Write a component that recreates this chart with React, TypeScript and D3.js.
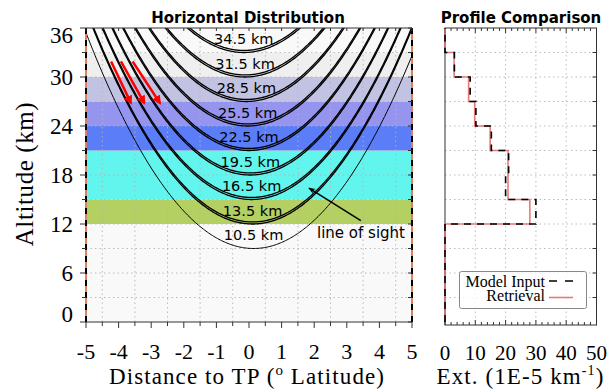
import React from "react";
import * as d3 from "d3";

// tangent heights of the lines of sight (km) and where each curve is centred (deg)
const tangentHeights = [10.5, 13.5, 16.5, 19.5, 22.5, 25.5, 28.5, 31.5, 34.5];
const tangentCentres = [0.14, 0.11, 0.08, 0.04, 0.0, -0.04, -0.08, -0.12, -0.16];

// layer edges (km) and the extinction per layer (1E-5 km^-1)
const layerEdges = [0, 12, 15, 18, 21, 24, 27, 30, 33, 36];
const modelInput = [0, 30, 20, 21, 15.3, 10.2, 8.3, 3.1, 0];
const retrieval = [0, 28, 20.8, 20.8, 14.9, 9.8, 7.8, 3, 0];
const layerColors = ["#f9f9f9", "#b4cf62", "#62f5ee", "#62f5ee", "#5b7df8", "#9595ef", "#c2c2e3", "#efefef", "#f9f9f9"];

const distTicks = [-5, -4, -3, -2, -1, 0, 1, 2, 3, 4, 5];
const altTicks = [0, 6, 12, 18, 24, 30, 36];
const extTicks = [0, 10, 20, 30, 40, 50];

// sun rays (deg, km)
const rays = [
  { from: [-4.23, 31.9], to: [-3.62, 26.8] },
  { from: [-3.93, 31.9], to: [-3.21, 26.8] },
  { from: [-3.57, 31.9], to: [-2.73, 26.8] },
];
const sightArrow = { from: [3.43, 12.4], to: [1.84, 16.4] };

const curvature = 1.0; // km per deg^2

const serif = "'Liberation Serif', serif";
const sans = "'DejaVu Sans', sans-serif";

export default function App() {
  const xL = d3.scaleLinear().domain([-5, 5]).range([86, 412]);
  const yA = d3.scaleLinear().domain([0, 36]).range([322, 28]);
  const xR = d3.scaleLinear().domain([0, 50]).range([445, 596.5]);
  const rightBottom = 325;

  const halfDeg = d3.range(-5, 5.01, 0.5);
  const every3 = d3.range(3, 34, 3);
  const samples = d3.range(-5.8, 5.81, 0.04);

  const curve = (base: number, c: number) =>
    d3
      .line<number>()
      .x((d) => xL(d))
      .y((d) => yA(base + curvature * (d - c) * (d - c)))(samples) as string;

  const stepPath = (vals: number[]) => {
    const pts: [number, number][] = [];
    vals.forEach((v, i) => {
      pts.push([v, layerEdges[i]]);
      pts.push([v, layerEdges[i + 1]]);
    });
    return d3
      .line<[number, number]>()
      .x((d) => xR(d[0]))
      .y((d) => yA(d[1]))(pts) as string;
  };

  const gridStyle = { stroke: "#b4b4b4", strokeWidth: 0.9, strokeDasharray: "1.5,3" };

  return (
    <svg width={613} height={389} style={{ position: "absolute", left: 0, top: 0, background: "#fff" }}>
      <defs>
        <clipPath id="leftClip">
          <rect x={86} y={28} width={326} height={294} />
        </clipPath>
        <marker id="redHead" viewBox="0 0 10 10" refX={8} refY={5} markerWidth={9} markerHeight={9} markerUnits="userSpaceOnUse" orient="auto">
          <path d="M0,0 L10,5 L0,10 Z" fill="#ff0000" />
        </marker>
        <marker id="blackHead" viewBox="0 0 10 10" refX={9} refY={5} markerWidth={9} markerHeight={7} markerUnits="userSpaceOnUse" orient="auto">
          <path d="M0,1 L10,5 L0,9 L3,5 Z" fill="#000" />
        </marker>
      </defs>

      {/* left panel */}
      <g>
        {layerColors.map((c, i) => (
          <rect key={i} x={86} width={326} y={yA(layerEdges[i + 1])} height={yA(layerEdges[i]) - yA(layerEdges[i + 1])} fill={c} />
        ))}
        {halfDeg.filter((d) => d % 1 !== 0).map((d) => (
          <line key={d} x1={xL(d)} x2={xL(d)} y1={28} y2={322} style={gridStyle} />
        ))}
        {every3.map((a) => (
          <line key={a} x1={86} x2={412} y1={yA(a)} y2={yA(a)} style={gridStyle} />
        ))}
        <g clipPath="url(#leftClip)" fill="none" stroke="#000">
          {tangentHeights.map((h, i) => {
            const base = h - 1.5;
            if (i === 0) return <path key={h} d={curve(base, tangentCentres[i])} strokeWidth={1} />;
            return (
              <g key={h}>
                <path d={curve(base, tangentCentres[i])} strokeWidth={1.3} />
                <path d={curve(base + 0.25, tangentCentres[i])} strokeWidth={1.3} />
              </g>
            );
          })}
        </g>
        {tangentHeights.map((h, i) => (
          <text key={h} x={xL(tangentCentres[i])} y={yA(h - 1.5) - 8.5} textAnchor="middle" fontFamily={sans} fontSize={14.5}>
            {h.toFixed(1)} km
          </text>
        ))}
        {rays.map((r, i) => (
          <line key={i} x1={xL(r.from[0])} y1={yA(r.from[1])} x2={xL(r.to[0])} y2={yA(r.to[1])} stroke="#ff0000" strokeWidth={2.5} markerEnd="url(#redHead)" />
        ))}
        <line x1={xL(sightArrow.from[0])} y1={yA(sightArrow.from[1])} x2={xL(sightArrow.to[0])} y2={yA(sightArrow.to[1])} stroke="#000" strokeWidth={1.5} markerEnd="url(#blackHead)" />
        <text x={317} y={238} fontFamily={sans} fontSize={15}>line of sight</text>

        {/* frame */}
        <line x1={86} x2={412} y1={28} y2={28} stroke="#333" strokeWidth={1} />
        <line x1={86} x2={412} y1={322} y2={322} stroke="#333" strokeWidth={1} />
        {[86, 412].map((x) => (
          <g key={x}>
            <line x1={x} x2={x} y1={28} y2={322} stroke="#d9825f" strokeWidth={2} />
            <line x1={x} x2={x} y1={28} y2={322} stroke="#000" strokeWidth={2} strokeDasharray="6,6" />
          </g>
        ))}
        {/* ticks */}
        {halfDeg.map((d) => (
          <g key={d} stroke="#333" strokeWidth={1}>
            <line x1={xL(d)} x2={xL(d)} y1={322} y2={322 + (d % 1 === 0 ? 6 : 4)} />
            <line x1={xL(d)} x2={xL(d)} y1={28} y2={31} />
          </g>
        ))}
        {[0, ...every3, 36].map((a) => (
          <g key={a} stroke="#333" strokeWidth={1}>
            <line x1={86 - (a % 6 === 0 ? 6 : 4)} x2={86} y1={yA(a)} y2={yA(a)} />
            <line x1={408} x2={412} y1={yA(a)} y2={yA(a)} />
          </g>
        ))}
        {altTicks.map((a) => (
          <text key={a} x={73} y={yA(a) + (a === 36 ? 14.5 : a === 0 ? 0 : 7.5)} textAnchor="end" fontFamily={serif} fontSize={23}>
            {a}
          </text>
        ))}
        {distTicks.map((d) => (
          <text key={d} x={xL(d)} y={359} textAnchor="middle" fontFamily={serif} fontSize={22}>
            {d}
          </text>
        ))}
        <text x={248} y={23} textAnchor="middle" fontFamily={sans} fontWeight="bold" fontSize={15}>
          Horizontal Distribution
        </text>
        <text x={247} y={384} textAnchor="middle" fontFamily={serif} fontSize={23} letterSpacing={1.1}>
          Distance to TP (
          <tspan fontSize={15} dy={-9}>o</tspan>
          <tspan dy={9}> Latitude)</tspan>
        </text>
        <text transform="translate(33,174) rotate(-90)" textAnchor="middle" fontFamily={serif} fontSize={25} letterSpacing={0.6}>
          Altitude (km)
        </text>
      </g>

      {/* right panel */}
      <g>
        {[10, 20, 30, 40].map((v) => (
          <line key={v} x1={xR(v)} x2={xR(v)} y1={28} y2={rightBottom} style={gridStyle} />
        ))}
        {every3.map((a) => (
          <line key={a} x1={445} x2={596.5} y1={yA(a)} y2={yA(a)} style={gridStyle} />
        ))}
        <rect x={445} y={28} width={151.5} height={rightBottom - 28} fill="none" stroke="#333" strokeWidth={1} />
        {d3.range(0, 51, 2).map((v) => (
          <g key={v} stroke="#333" strokeWidth={1}>
            <line x1={xR(v)} x2={xR(v)} y1={28} y2={28 + (v % 10 === 0 ? 5 : 3)} />
            <line x1={xR(v)} x2={xR(v)} y1={rightBottom} y2={rightBottom - (v % 10 === 0 ? 5 : 3)} />
          </g>
        ))}
        {every3.map((a) => (
          <line key={a} x1={592.5} x2={596.5} y1={yA(a)} y2={yA(a)} stroke="#333" strokeWidth={1} />
        ))}
        <path d={stepPath(retrieval)} fill="none" stroke="#e36464" strokeOpacity={0.85} strokeWidth={1.6} />
        <path d={stepPath(modelInput)} fill="none" stroke="#000" strokeWidth={1.6} strokeDasharray="7,6" />
        {extTicks.map((v) => (
          <text key={v} x={xR(v)} y={360} textAnchor="middle" fontFamily={serif} fontSize={21}>
            {v}
          </text>
        ))}
        <text x={521} y={23} textAnchor="middle" fontFamily={sans} fontWeight="bold" fontSize={15}>
          Profile Comparison
        </text>
        <text x={520.5} y={384} textAnchor="middle" fontFamily={serif} fontSize={23} letterSpacing={1.1}>
          Ext. (1E-5 km
          <tspan fontSize={14} dy={-9}>-1</tspan>
          <tspan dy={9}>)</tspan>
        </text>
        {/* legend */}
        <rect x={459.5} y={271.5} width={127} height={37} rx={2} fill="#fff" fillOpacity={0.8} stroke="#888" strokeWidth={1} />
        <text x={545} y={286.5} textAnchor="end" fontFamily={serif} fontSize={16}>Model Input</text>
        <text x={545} y={301} textAnchor="end" fontFamily={serif} fontSize={16}>Retrieval</text>
        <line x1={549} x2={573} y1={281} y2={281} stroke="#000" strokeWidth={1.6} strokeDasharray="8,8" />
        <line x1={549} x2={573} y1={297.5} y2={297.5} stroke="#e36464" strokeOpacity={0.85} strokeWidth={1.6} />
      </g>
    </svg>
  );
}
